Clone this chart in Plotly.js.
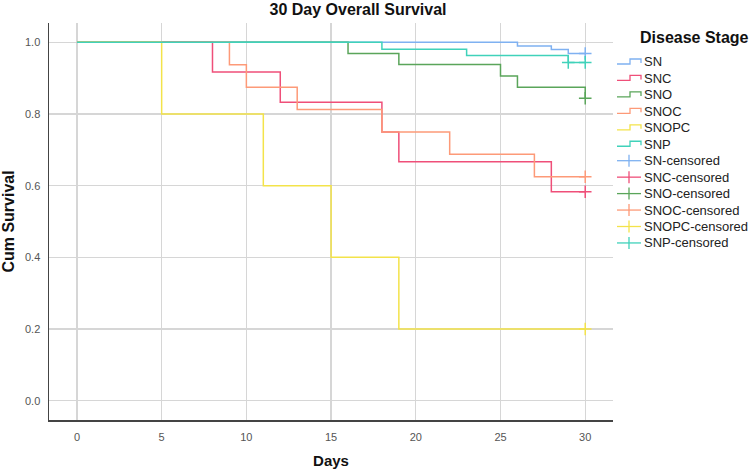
<!DOCTYPE html>
<html>
<head>
<meta charset="utf-8">
<script src="https://cdn.plot.ly/plotly-3.0.1.min.js"></script>
<style>html,body{margin:0;padding:0;background:#fff;}#chart{width:749px;height:471px;}</style>
</head>
<body>
<div id="chart"></div>
<script>
// Series names
const seriesNames = ["SN", "SNC", "SNO", "SNOC", "SNOPC", "SNP"];
const seriesColors = ["#7fb1f1", "#ef4f79", "#5aa55a", "#fd9a78", "#f3e34a", "#40d2ba"];

// Kaplan-Meier step data (days, cumulative survival)
const snDays = [0, 26, 28, 29, 30];
const snSurv = [1.0, 0.990, 0.980, 0.969, 0.969];
const sncDays = [0, 8, 12, 18, 19, 28, 30];
const sncSurv = [1.0, 0.917, 0.833, 0.750, 0.667, 0.583, 0.583];
const snoDays = [0, 16, 19, 25, 26, 30];
const snoSurv = [1.0, 0.969, 0.938, 0.906, 0.875, 0.844];
const snocDays = [0, 9, 10, 13, 18, 22, 27, 30];
const snocSurv = [1.0, 0.9375, 0.875, 0.8125, 0.750, 0.6875, 0.625, 0.625];
const snopcDays = [0, 5, 11, 15, 19, 30];
const snopcSurv = [1.0, 0.8, 0.6, 0.4, 0.2, 0.2];
const snpDays = [0, 18, 23, 29, 30];
const snpSurv = [1.0, 0.981, 0.963, 0.944, 0.944];

// Censored observations
const snCensDays = [30];      const snCensSurv = [0.969];
const sncCensDays = [30];     const sncCensSurv = [0.583];
const snoCensDays = [30];     const snoCensSurv = [0.844];
const snocCensDays = [30];    const snocCensSurv = [0.625];
const snopcCensDays = [30];   const snopcCensSurv = [0.2];
const snpCensDays = [29, 30]; const snpCensSurv = [0.944, 0.944];

// Axis ticks
const xTicks = [0, 5, 10, 15, 20, 25, 30];
const yTicks = [0.0, 0.2, 0.4, 0.6, 0.8, 1.0];
const yTickText = ["0.0", "0.2", "0.4", "0.6", "0.8", "1.0"];

const curveDays = [snDays, sncDays, snoDays, snocDays, snopcDays, snpDays];
const curveSurv = [snSurv, sncSurv, snoSurv, snocSurv, snopcSurv, snpSurv];
const censDays = [snCensDays, sncCensDays, snoCensDays, snocCensDays, snopcCensDays, snpCensDays];
const censSurv = [snCensSurv, sncCensSurv, snoCensSurv, snocCensSurv, snopcCensSurv, snpCensSurv];

const font = "Arial, 'Liberation Sans', sans-serif";
const W = 749, H = 471;
const M = {l: 49, r: 136, t: 23, b: 51};
const PW = W - M.l - M.r, PH = H - M.t - M.b;
const px = v => (v - M.l) / PW;       // pixel x -> paper x
const py = v => (H - M.b - v) / PH;   // pixel y -> paper y

const traces = [];
for (let i = 0; i < seriesNames.length; i++) {
  traces.push({
    type: "scatter", mode: "lines", name: seriesNames[i],
    x: curveDays[i], y: curveSurv[i],
    line: {shape: "hv", color: seriesColors[i], width: 1.5},
    hoverinfo: "skip", showlegend: false
  });
}
for (let i = 0; i < seriesNames.length; i++) {
  traces.push({
    type: "scatter", mode: "markers", name: seriesNames[i] + "-censored",
    x: censDays[i], y: censSurv[i],
    marker: {symbol: "cross-thin", size: 9, line: {color: seriesColors[i], width: 1.5}, color: seriesColors[i]},
    hoverinfo: "skip", showlegend: false
  });
}

// Custom legend (SPSS style): step icons for curves, cross icons for censored
const shapes = [], annotations = [];
annotations.push({
  text: "<b>Disease Stage</b>", xref: "paper", yref: "paper", x: px(638), y: py(37),
  xanchor: "left", yanchor: "middle", showarrow: false,
  font: {family: font, size: 16, color: "#111"}
});
const legY0 = 62, legDy = 16.45, iconL = 617, iconR = 641, textX = 642;
for (let i = 0; i < 12; i++) {
  const s = i % 6;
  const yc = legY0 + i * legDy;
  const col = seriesColors[s];
  const label = i < 6 ? seriesNames[s] : seriesNames[s] + "-censored";
  if (i < 6) {
    const p = `M ${px(iconL)} ${py(yc + 2)} L ${px(630)} ${py(yc + 2)} L ${px(630)} ${py(yc - 3)} L ${px(iconR)} ${py(yc - 3)} L ${px(iconR)} ${py(yc + 1)}`;
    shapes.push({type: "path", xref: "paper", yref: "paper", path: p, line: {color: col, width: 1.3}});
  } else {
    shapes.push({type: "line", xref: "paper", yref: "paper", x0: px(iconL), x1: px(iconR), y0: py(yc), y1: py(yc), line: {color: col, width: 1.3}});
    shapes.push({type: "line", xref: "paper", yref: "paper", x0: px(629), x1: px(629), y0: py(yc - 6), y1: py(yc + 6), line: {color: col, width: 1.3}});
  }
  annotations.push({
    text: label, xref: "paper", yref: "paper", x: px(textX), y: py(yc),
    xanchor: "left", yanchor: "middle", showarrow: false,
    font: {family: font, size: 13, color: "#222"}
  });
}

const layout = {
  width: W, height: H,
  margin: {l: M.l, r: M.r, t: M.t, b: M.b, pad: 0, autoexpand: false},
  paper_bgcolor: "#ffffff", plot_bgcolor: "#ffffff",
  font: {family: font, color: "#222"},
  title: {text: "<b>30 Day Overall Survival</b>", font: {family: font, size: 16, color: "#111"},
          x: 0.478, xref: "container", xanchor: "center", y: 0.979, yref: "container", yanchor: "middle"},
  xaxis: {
    range: [-1.65, 31.64], tickvals: xTicks, ticktext: xTicks.map(String),
    showgrid: true, gridcolor: "#d6d6d6", gridwidth: 1.3, zeroline: false,
    showline: true, linecolor: "#444", linewidth: 1.5, ticks: "",
    tickfont: {family: font, size: 11, color: "#555"}, ticklabelstandoff: 6,
    title: {text: "<b>Days</b>", font: {family: font, size: 15, color: "#111"}, standoff: 14}
  },
  yaxis: {
    range: [-0.054, 1.054], tickvals: yTicks, ticktext: yTickText,
    showgrid: true, gridcolor: "#d6d6d6", gridwidth: 1.3, zeroline: false,
    showline: true, linecolor: "#444", linewidth: 1.5, ticks: "",
    tickfont: {family: font, size: 11, color: "#555"}, ticklabelstandoff: 5,
    title: {text: "<b>Cum Survival</b>", font: {family: font, size: 16, color: "#111"}, standoff: 9}
  },
  showlegend: false,
  shapes: shapes,
  annotations: annotations
};

Plotly.newPlot("chart", traces, layout, {staticPlot: true, displayModeBar: false});
</script>
</body>
</html>
